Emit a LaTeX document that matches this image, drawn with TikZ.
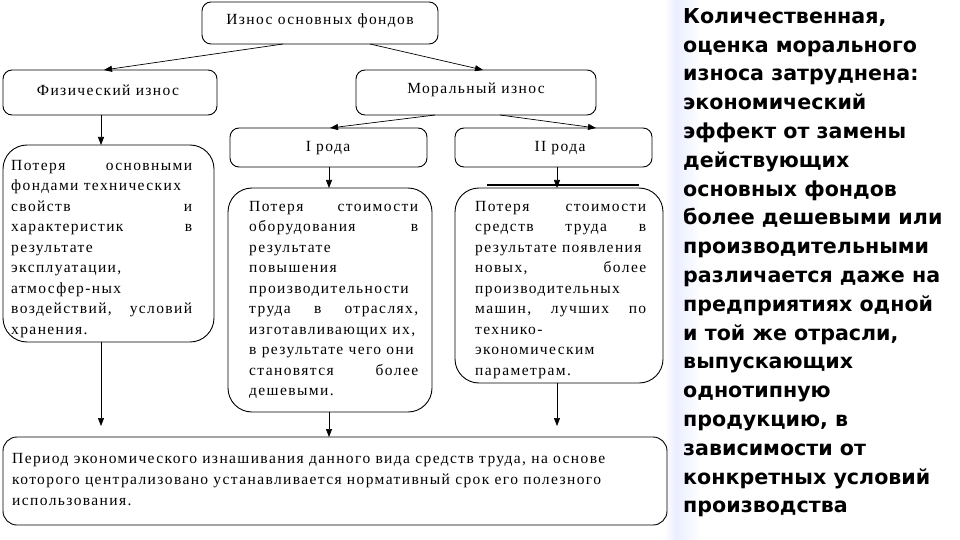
\documentclass[tikz,border=0pt]{standalone}
\usepackage{fontspec}
\setmainfont{Liberation Serif}[LetterSpace=9]
\newfontfamily\rfont{DejaVu Sans}
\usetikzlibrary{arrows.meta}
\begin{document}
\begin{tikzpicture}[x=1pt,y=-1pt,
  bx/.style={draw,rounded corners=9pt,line width=0.9pt},
  tb/.style={draw,rounded corners=24pt,line width=0.9pt},
  lbl/.style={font=\fontsize{15.5}{16}\selectfont},
  para/.style={anchor=north west,inner sep=0pt,align=justify,font=\fontsize{15.5}{20.5}\selectfont},
  arr/.style={-{Triangle[length=8pt,width=6pt]},line width=0.7pt}]
\useasboundingbox (0,0) rectangle (960,540);
\fill[white] (0,0) rectangle (960,540);
\shade[left color=white,right color=cyan!15!blue!8] (664,0) rectangle (676,540);
\shade[left color=cyan!15!blue!8,right color=white] (676,0) rectangle (700,540);
% boxes
\draw[bx] (202,2) rectangle (438,44);
\node[lbl] (top) at (320,21) {Износ основных фондов};
\draw[bx] (3,70) rectangle (217,115);
\node[lbl] (fiz) at (108,90) {Физический износ};
\draw[bx] (356,70) rectangle (596,115);
\node[lbl] (mor) at (476,90) {Моральный износ};
\draw[bx] (230,128) rectangle (427,167);
\node[lbl] (r1) at (328,148) {I рода};
\draw[bx] (455,128) rectangle (652,167);
\node[lbl] (r2) at (560,148) {II рода};
\draw[tb] (3,145) rectangle (214,342);
\node[para,text width=181pt] (t1) at (11,160) {Потеря\hfill основными\\ фондами технических\\ свойств\hfill и\\ характеристик\hfill в\\ результате\\ эксплуатации,\\ атмосфер-ных\\ воздействий,\hfill условий\\ хранения.};
\draw[tb] (228,188) rectangle (432,412);
\node[para,text width=169pt] (t2) at (249,201) {Потеря\hfill стоимости\\ оборудования\hfill в\\ результате\\ повышения\\ производительности\\ труда\hfill в\hfill отраслях,\\ изготавливающих их,\\ в результате чего они\\ становятся\hfill более\\ дешевыми.};
\draw[tb] (455,188) rectangle (663,383);
\draw[line width=2pt] (487,185) -- (639,185);
\node[para,text width=171pt] (t3) at (475,201) {Потеря\hfill стоимости\\ средств\hfill труда\hfill в\\ результате появления\\ новых,\hfill более\\ производительных\\ машин,\hfill лучших\hfill по\\ технико-\\ экономическим\\ параметрам.};
\draw[bx,rounded corners=14pt] (3,437) rectangle (667,525);
\node[para,text width=640pt,font=\fontsize{15.5}{21}\selectfont] (bot) at (12,453) {Период экономического изнашивания данного вида средств труда, на основе\\ которого централизовано устанавливается нормативный срок его полезного\\ использования.};
% connectors
\coordinate (a1) at (283,44); \coordinate (a2) at (104,70);
\coordinate (b1) at (370,44); \coordinate (b2) at (483,70);
\coordinate (c1) at (435,115); \coordinate (c2) at (330,128);
\coordinate (d1) at (500,115); \coordinate (d2) at (596,128);
\draw[arr] (a1) -- (a2);
\draw[arr] (b1) -- (b2);
\draw[arr] (c1) -- (c2);
\draw[arr] (d1) -- (d2);
\coordinate (e1) at (101,115); \coordinate (e2) at (101,145);
\coordinate (f1) at (329,167); \coordinate (f2) at (329,188);
\coordinate (g1) at (557,167); \coordinate (g2) at (557,188);
\draw[arr] (e1) -- (e2);
\draw[arr] (f1) -- (f2);
\draw[arr] (g1) -- (g2);
\coordinate (h1) at (101,342); \coordinate (h2) at (101,426);
\coordinate (i1) at (329,412); \coordinate (i2) at (329,437);
\coordinate (j1) at (557,383); \coordinate (j2) at (557,426);
\draw[arr] (h1) -- (h2);
\draw[arr] (i1) -- (i2);
\draw[arr] (j1) -- (j2);
% right text
\node[anchor=north west,inner sep=0pt,align=left,font=\rfont\bfseries\fontsize{20.6}{28.8}\selectfont] (rt) at (683,8) {Количественная,\\ оценка морального\\ износа затруднена:\\ экономический\\ эффект от замены\\ действующих\\ основных фондов\\ более дешевыми или\\ производительными\\ различается даже на\\ предприятиях одной\\ и той же отрасли,\\ выпускающих\\ однотипную\\ продукцию, в\\ зависимости от\\ конкретных условий\\ производства};
\end{tikzpicture}
\end{document}
